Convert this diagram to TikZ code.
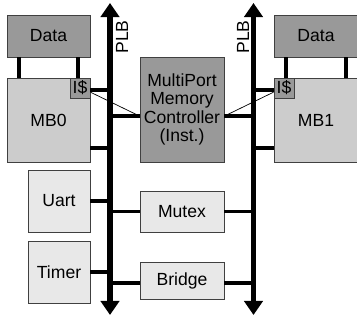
\documentclass[tikz,border=0pt]{standalone}
\usepackage{fontspec}
\setmainfont{Liberation Sans}
\usetikzlibrary{arrows.meta,calc}

\begin{document}
\begin{tikzpicture}[x=0.025cm, y=-0.025cm, font=\fontsize{12.5}{13}\selectfont,
  blk/.style={draw=black!75, line width=0.6pt, inner sep=0pt, align=center},
  dark/.style={blk, fill=black!40},
  mid/.style={blk, fill=black!20},
  light/.style={blk, fill=black!9},
  conn/.style={line width=2.8pt},
  bus/.style={line width=4.2pt, {Triangle[width=13pt,length=10pt]}-{Triangle[width=13pt,length=10pt]}}]
  \useasboundingbox (0,0) rectangle (357,320);

  % processors and their data memories
  \node[dark, minimum width=2.075cm, minimum height=1.05cm] (dataL) at (48.5,36) {Data};
  \node[mid, minimum width=2.075cm, minimum height=2.1cm] (mbL) at (48.5,120) {MB0};
  \node[dark, minimum size=0.5cm] (icL) at (80,88) {I\$};
  \node[dark, minimum width=2.1cm, minimum height=1.05cm] (dataR) at (316,36) {Data};
  \node[mid, minimum width=2.1cm, minimum height=2.1cm] (mbR) at (316,120) {MB1};
  \node[dark, minimum size=0.5cm] (icR) at (284,88) {I\$};

  % shared blocks
  \node[dark, minimum width=2.1cm, minimum height=2.625cm] (mpmc) at (182,109.5) {MultiPort\\Memory\\Controller\\(Inst.)};
  \node[light, minimum width=2.1cm, minimum height=1.025cm] (mutex) at (182,211.5) {Mutex};
  \node[light, minimum width=2.1cm, minimum height=0.925cm] (bridge) at (182,280.5) {Bridge};
  \node[light, minimum size=1.55cm] (uart) at (59,201) {Uart};
  \node[light, minimum size=1.55cm] (timer) at (59,272) {Timer};

  % the two buses
  \coordinate (busLt) at (110,3);
  \coordinate (busLb) at (110,315);
  \coordinate (busRt) at (253.5,3);
  \coordinate (busRb) at (253.5,315);
  \node[rotate=90] (plbL) at (122,37) {PLB};
  \node[rotate=90] (plbR) at (243,37) {PLB};

  % tap points
  \coordinate (mpW) at ($(mpmc.north west)!0.562!(mpmc.south west)$);
  \coordinate (mpE) at ($(mpmc.north east)!0.562!(mpmc.south east)$);
  \coordinate (mbLt) at ($(mbL.north east)!0.833!(mbL.south east)$);
  \coordinate (mbRt) at ($(mbR.north west)!0.833!(mbR.south west)$);
  \coordinate (icLt) at ($(icL.north east)!0.6!(icL.south east)$);
  \coordinate (icRt) at ($(icR.north west)!0.6!(icR.south west)$);
  \coordinate (brW) at ($(bridge.north west)!0.57!(bridge.south west)$);
  \coordinate (brE) at ($(bridge.north east)!0.57!(bridge.south east)$);

  \foreach \f in {0.145,0.855}{
    \coordinate (dl) at ($(dataL.south west)!\f!(dataL.south east)$);
    \draw[conn] (dl) -- (dl |- mbL.north);
    \coordinate (dr) at ($(dataR.south west)!\f!(dataR.south east)$);
    \draw[conn] (dr) -- (dr |- mbR.north);
  }

  \foreach \p in {icLt,mbLt,mpW,uart.east,timer.east,mutex.west,brW}
    \draw[conn] (\p) -- (\p -| busLt);
  \foreach \p in {icRt,mbRt,mpE,mutex.east,brE}
    \draw[conn] (\p) -- (\p -| busRt);

  \draw[line width=0.5pt] ($(icL.north east)!0.7!(icL.south east)$) -- (mpW);
  \draw[line width=0.5pt] ($(icR.north west)!0.7!(icR.south west)$) -- (mpE);

  \draw[bus] (busLb) -- (busLt);
  \draw[bus] (busRb) -- (busRt);
\end{tikzpicture}
\end{document}
